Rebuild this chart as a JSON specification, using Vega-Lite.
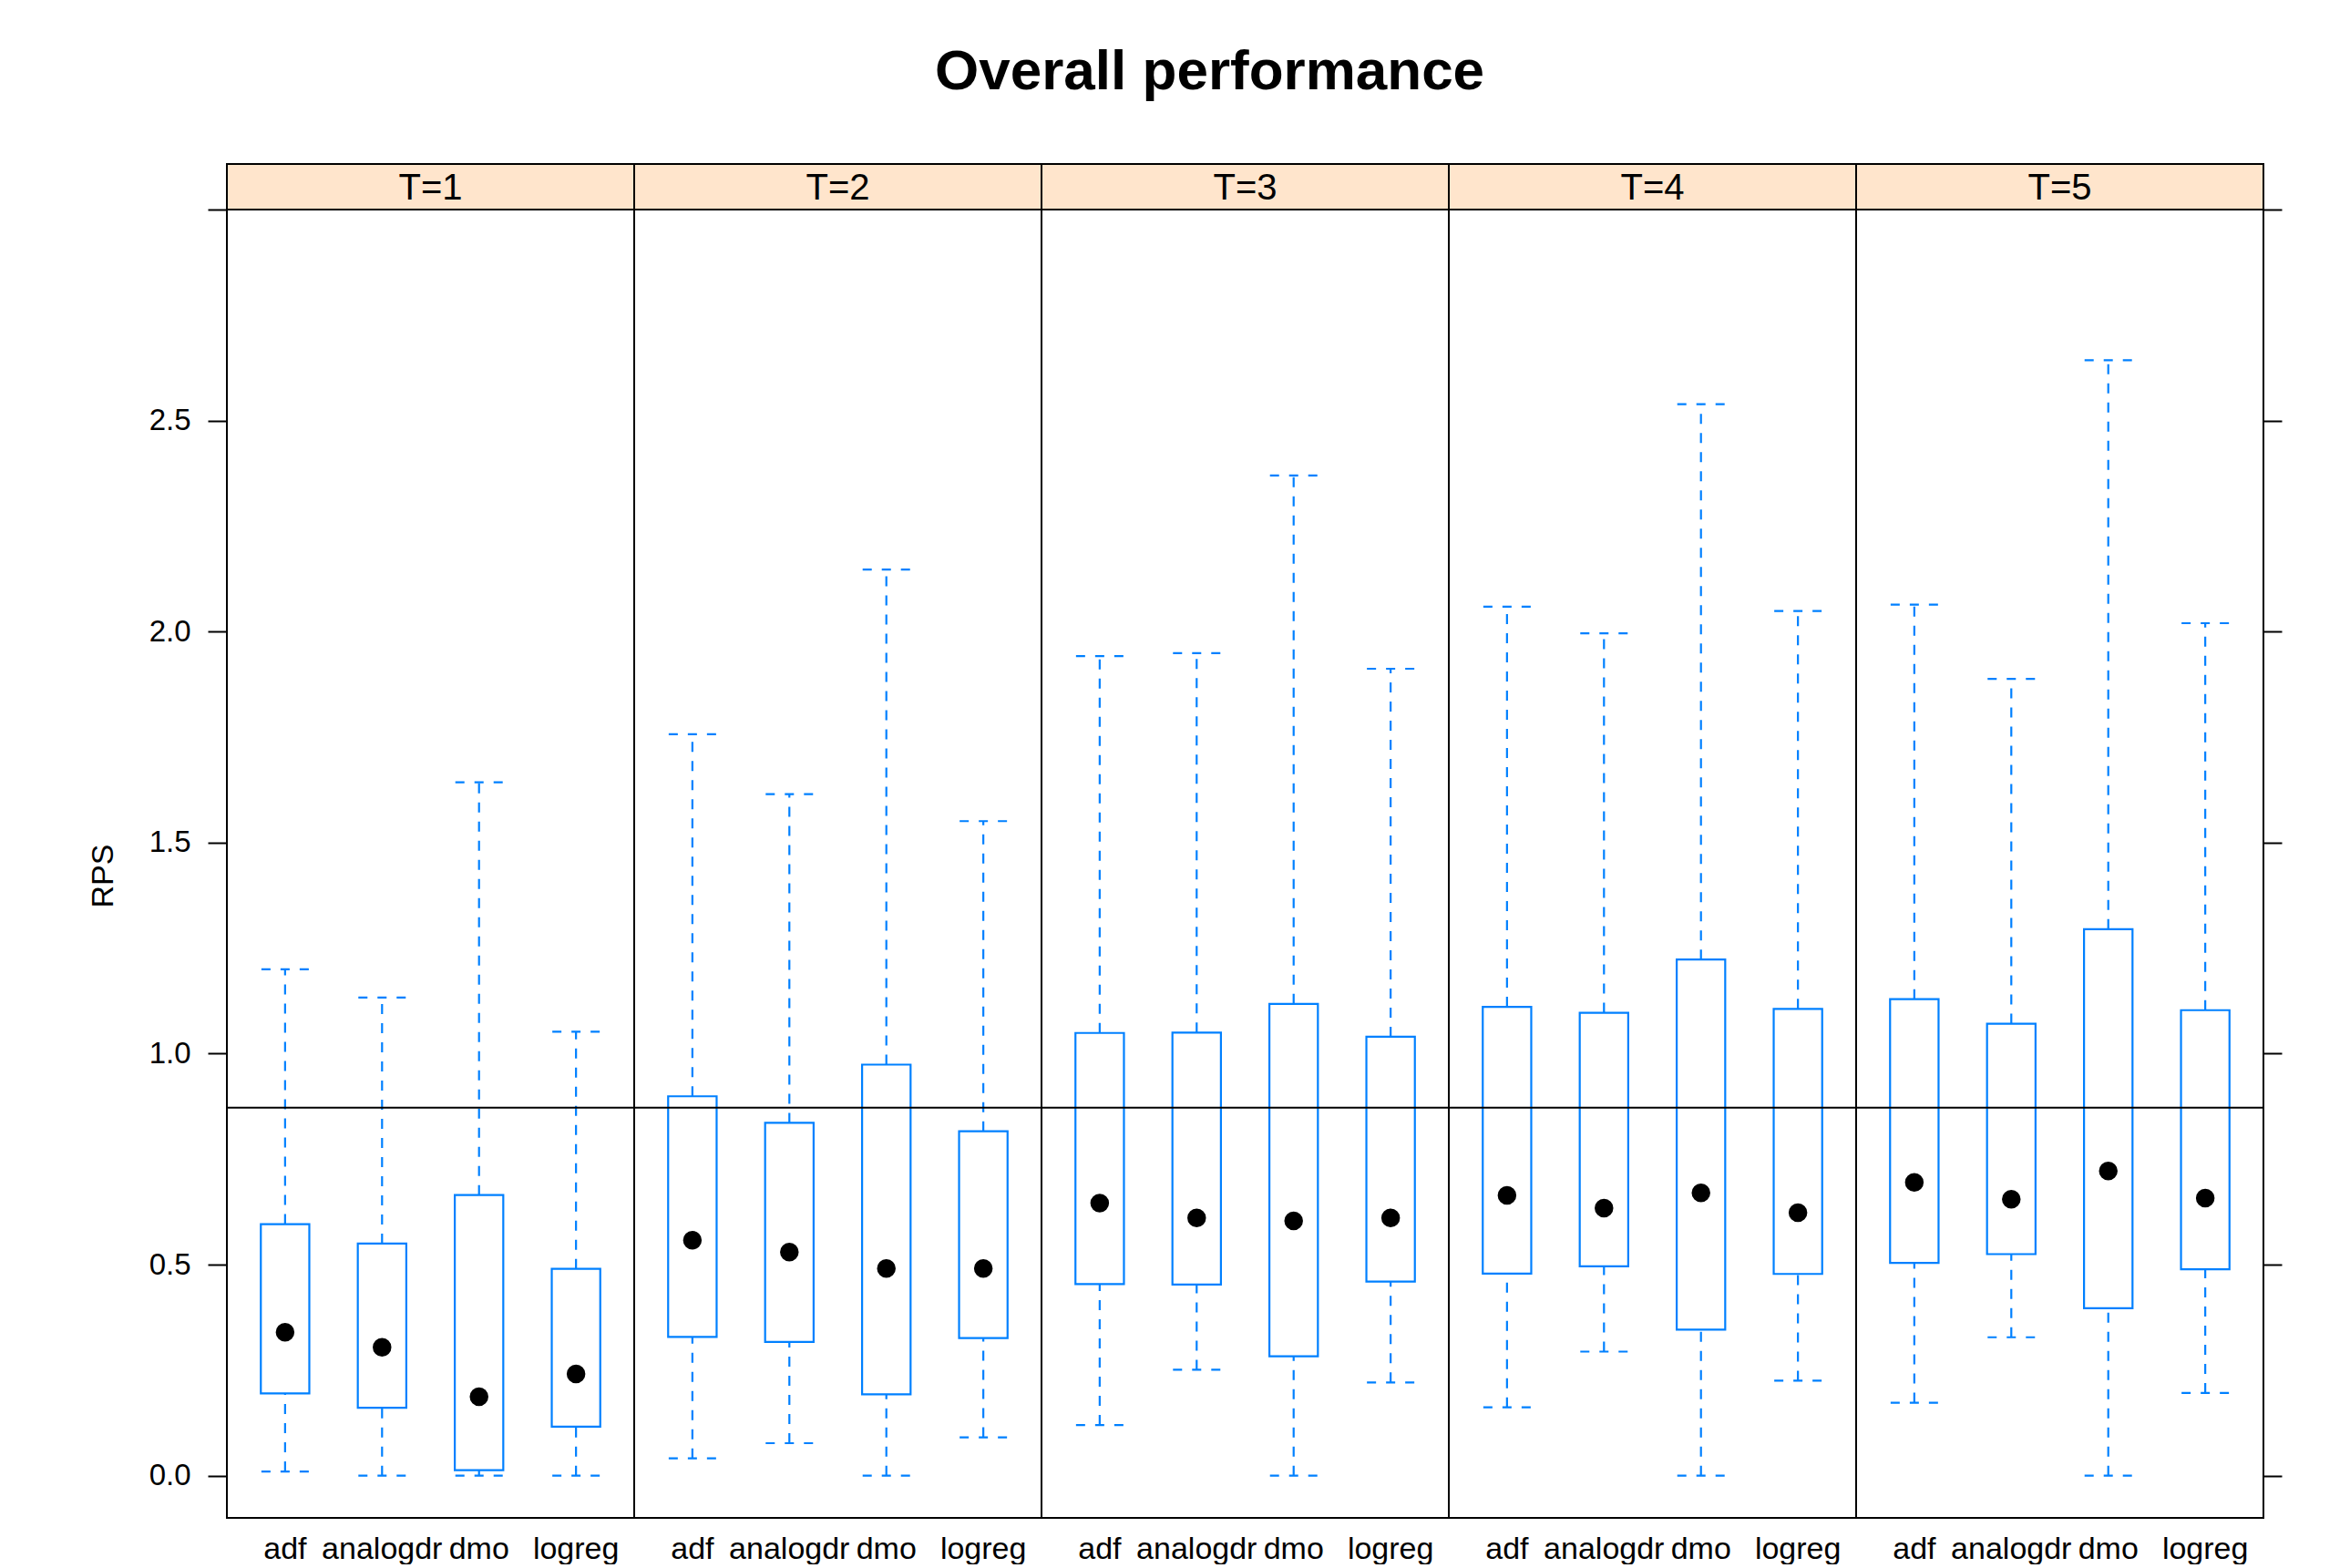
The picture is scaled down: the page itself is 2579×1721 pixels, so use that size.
{
  "$schema": "https://vega.github.io/schema/vega-lite/v6.json",
  "background": "white",
  "padding": {"left": 96, "top": 48, "right": 20, "bottom": 0},
  "bounds": "flush",
  "config": {
    "font": "Liberation Sans",
    "view": {"stroke": "black", "strokeWidth": 2}
  },
  "title": {
    "text": "Overall performance",
    "fontSize": 62,
    "fontWeight": "bold",
    "font": "Liberation Sans",
    "color": "black",
    "anchor": "middle",
    "baseline": "alphabetic",
    "offset": 18,
    "dx": 27
  },
  "data": {
    "values": [
      {"T": "T=1", "method": "adf", "lo": 0.010, "q1": 0.195, "med": 0.340, "q3": 0.596, "hi": 1.200},
      {"T": "T=1", "method": "analogdr", "lo": 0.000, "q1": 0.161, "med": 0.304, "q3": 0.550, "hi": 1.133},
      {"T": "T=1", "method": "dmo", "lo": 0.000, "q1": 0.013, "med": 0.187, "q3": 0.665, "hi": 1.643},
      {"T": "T=1", "method": "logreg", "lo": 0.000, "q1": 0.116, "med": 0.241, "q3": 0.490, "hi": 1.052},
      {"T": "T=2", "method": "adf", "lo": 0.041, "q1": 0.329, "med": 0.558, "q3": 0.899, "hi": 1.757},
      {"T": "T=2", "method": "analogdr", "lo": 0.077, "q1": 0.317, "med": 0.530, "q3": 0.836, "hi": 1.615},
      {"T": "T=2", "method": "dmo", "lo": 0.000, "q1": 0.193, "med": 0.491, "q3": 0.974, "hi": 2.147},
      {"T": "T=2", "method": "logreg", "lo": 0.091, "q1": 0.326, "med": 0.491, "q3": 0.816, "hi": 1.551},
      {"T": "T=3", "method": "adf", "lo": 0.120, "q1": 0.454, "med": 0.646, "q3": 1.049, "hi": 1.942},
      {"T": "T=3", "method": "analogdr", "lo": 0.251, "q1": 0.453, "med": 0.611, "q3": 1.050, "hi": 1.949},
      {"T": "T=3", "method": "dmo", "lo": 0.000, "q1": 0.283, "med": 0.604, "q3": 1.118, "hi": 2.370},
      {"T": "T=3", "method": "logreg", "lo": 0.221, "q1": 0.460, "med": 0.611, "q3": 1.040, "hi": 1.912},
      {"T": "T=4", "method": "adf", "lo": 0.162, "q1": 0.479, "med": 0.664, "q3": 1.111, "hi": 2.059},
      {"T": "T=4", "method": "analogdr", "lo": 0.294, "q1": 0.496, "med": 0.634, "q3": 1.097, "hi": 1.996},
      {"T": "T=4", "method": "dmo", "lo": 0.000, "q1": 0.346, "med": 0.670, "q3": 1.223, "hi": 2.539},
      {"T": "T=4", "method": "logreg", "lo": 0.225, "q1": 0.478, "med": 0.623, "q3": 1.106, "hi": 2.049},
      {"T": "T=5", "method": "adf", "lo": 0.173, "q1": 0.504, "med": 0.695, "q3": 1.129, "hi": 2.064},
      {"T": "T=5", "method": "analogdr", "lo": 0.328, "q1": 0.525, "med": 0.655, "q3": 1.071, "hi": 1.888},
      {"T": "T=5", "method": "dmo", "lo": 0.000, "q1": 0.397, "med": 0.722, "q3": 1.295, "hi": 2.643},
      {"T": "T=5", "method": "logreg", "lo": 0.196, "q1": 0.489, "med": 0.658, "q3": 1.103, "hi": 2.020}
    ]
  },
  "spacing": 0,
  "facet": {
    "column": {"field": "T", "type": "nominal", "header": {"labels": false, "title": null}}
  },
  "spec": {
    "width": 447,
    "height": 1486,
    "layer": [
      {
        "transform": [{"filter": "datum.method === 'adf'"}],
        "mark": {"type": "rect", "fill": "#ffe5cc", "stroke": "black", "strokeWidth": 2},
        "encoding": {
          "y": {"datum": 3.0, "type": "quantitative", "scale": {"domain": [-0.1, 3.108], "nice": false, "zero": false}, "axis": null},
          "y2": {"datum": 3.108}
        }
      },
      {
        "transform": [{"filter": "datum.method === 'adf'"}],
        "mark": {"type": "text", "fontSize": 40, "color": "black", "baseline": "middle", "align": "center", "dy": 2},
        "encoding": {
          "y": {"datum": 3.054, "type": "quantitative", "axis": null},
          "text": {"field": "T", "type": "nominal"}
        }
      },
      {
        "mark": {"type": "rule", "color": "#0080ff", "strokeWidth": 2.2, "strokeDash": [11, 10]},
        "encoding": {
          "x": {"field": "method", "type": "nominal", "scale": {"type": "band", "paddingInner": 0.5, "paddingOuter": 0.35},
                "axis": {"orient": "bottom", "title": null, "labelFontSize": 34, "labelAngle": 0, "labelColor": "black", "ticks": false, "domain": false, "labelPadding": 17, "labelOverlap": false, "labelBound": false}},
          "y": {"field": "q3", "type": "quantitative",
                "axis": {"orient": "left", "values": [0, 0.5, 1, 1.5, 2, 2.5, 3], "labelExpr": "datum.value >= 2.99 ? '' : format(datum.value, '.1f')", "grid": false, "domain": false, "tickSize": 21, "tickWidth": 2, "tickColor": "black", "labelFontSize": 33, "labelColor": "black", "labelPadding": 19, "title": "RPS", "titleFontSize": 34, "titleFontWeight": "normal", "titleColor": "black", "titlePadding": 33, "titleY": 781}},
          "y2": {"field": "hi"}
        }
      },
      {
        "mark": {"type": "rule", "color": "#0080ff", "strokeWidth": 2.2, "strokeDash": [11, 10]},
        "encoding": {
          "x": {"field": "method", "type": "nominal"},
          "y": {"field": "lo", "type": "quantitative",
                "axis": {"orient": "right", "values": [0, 0.5, 1, 1.5, 2, 2.5, 3], "labels": false, "grid": false, "domain": false, "tickSize": 20, "tickWidth": 2, "tickColor": "black", "title": null}},
          "y2": {"field": "q1"}
        }
      },
      {
        "mark": {"type": "rule", "color": "#0080ff", "strokeWidth": 2.2, "strokeDash": [10, 11], "xOffset": -26, "x2Offset": 26},
        "encoding": {
          "x": {"field": "method", "type": "nominal"},
          "x2": {"field": "method"},
          "y": {"field": "hi", "type": "quantitative", "axis": null}
        }
      },
      {
        "mark": {"type": "rule", "color": "#0080ff", "strokeWidth": 2.2, "strokeDash": [10, 11], "xOffset": -26, "x2Offset": 26},
        "encoding": {
          "x": {"field": "method", "type": "nominal"},
          "x2": {"field": "method"},
          "y": {"field": "lo", "type": "quantitative", "axis": null}
        }
      },
      {
        "mark": {"type": "bar", "filled": false, "color": "#0080ff", "strokeWidth": 2.2},
        "encoding": {
          "x": {"field": "method", "type": "nominal"},
          "y": {"field": "q1", "type": "quantitative", "axis": null},
          "y2": {"field": "q3"}
        }
      },
      {
        "transform": [{"filter": "datum.method === 'adf'"}],
        "mark": {"type": "rule", "color": "black", "strokeWidth": 2},
        "encoding": {
          "y": {"datum": 0.872, "type": "quantitative", "axis": null}
        }
      },
      {
        "mark": {"type": "circle", "color": "black", "size": 420, "opacity": 1},
        "encoding": {
          "x": {"field": "method", "type": "nominal"},
          "y": {"field": "med", "type": "quantitative", "axis": null}
        }
      }
    ]
  }
}
